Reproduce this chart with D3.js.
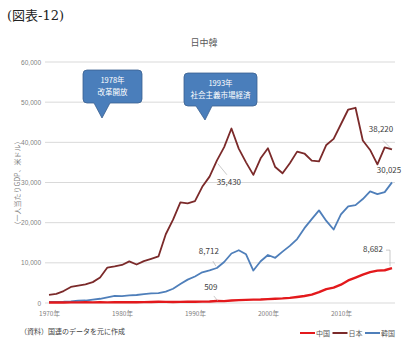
<!DOCTYPE html>
<html>
<head>
<meta charset="utf-8">
<script src="https://cdn.jsdelivr.net/npm/d3@7"></script>
<style>
  body { margin: 0; background: #fff; }
  svg text { font-family: "Liberation Sans Narrow", "Noto Sans CJK JP", sans-serif; }
</style>
</head>
<body>
<svg id="chart" width="419" height="348"></svg>
<script>
// 年 (1970-2017)
const years = d3.range(1970, 2018);

// 一人当たりGDP（米ドル）
const china = [113, 119, 132, 157, 160, 178, 165, 185, 156, 184,
  195, 197, 203, 225, 250, 294, 281, 252, 284, 311,
  318, 333, 366, 509, 472, 610, 709, 782, 829, 873,
  959, 1053, 1149, 1289, 1509, 1753, 2099, 2694, 3468, 3832,
  4550, 5618, 6317, 7051, 7679, 8067, 8148, 8682];
const japan = [2037, 2272, 2967, 3997, 4353, 4659, 5197, 6335, 8821, 9105,
  9463, 10361, 9578, 10425, 10984, 11585, 17112, 20745, 25052, 24813,
  25359, 28925, 31465, 35430, 38815, 43440, 38437, 35022, 31903, 36027,
  38532, 33846, 32289, 34808, 37689, 37218, 35434, 35275, 39339, 40855,
  44508, 48168, 48603, 40454, 38109, 34524, 38761, 38220];
const korea = [279, 301, 324, 406, 563, 617, 834, 1055, 1405, 1783,
  1715, 1883, 1992, 2199, 2413, 2482, 2835, 3555, 4749, 5817,
  6610, 7637, 8127, 8712, 10206, 12333, 13138, 12131, 8085, 10409,
  11948, 11253, 12789, 14219, 15922, 18640, 20888, 23060, 20431, 18292,
  22087, 24080, 24359, 25890, 27811, 27105, 27608, 30025];

const yTicks = [0, 10000, 20000, 30000, 40000, 50000, 60000];
const xTicks = [1970, 1980, 1990, 2000, 2010];

const svg = d3.select("#chart");

const x = d3.scaleLinear().domain([1970, 2017]).range([49, 392]);
const y = d3.scaleLinear().domain([0, 60000]).range([303, 62]);

// 見出し
svg.append("text").attr("x", 7).attr("y", 20)
  .attr("font-size", 13).attr("fill", "#222")
  .style("font-family", "'DejaVu Serif', 'Noto Sans CJK JP', serif")
  .text("(図表-12)");

svg.append("text").attr("x", 204).attr("y", 46)
  .attr("text-anchor", "middle").attr("font-size", 9).attr("fill", "#595959")
  .style("font-family", "'Noto Sans CJK JP', sans-serif")
  .text("日中韓");

// 目盛線
svg.append("g").selectAll("line").data(yTicks).join("line")
  .attr("x1", 45).attr("x2", 395)
  .attr("y1", d => y(d)).attr("y2", d => y(d))
  .attr("stroke", "#d9d9d9").attr("stroke-width", 1);

const yAxis = svg.append("g").attr("transform", "translate(45,0)")
  .call(d3.axisLeft(y).tickValues(yTicks).tickSize(0).tickPadding(4)
    .tickFormat(d3.format(",")));
yAxis.select(".domain").remove();
yAxis.selectAll("text").attr("font-size", 6.5).attr("fill", "#7f7f7f")
  .style("font-family", "'Liberation Sans Narrow', sans-serif");

const xAxis = svg.append("g").attr("transform", "translate(0,308)")
  .call(d3.axisBottom(x).tickValues(xTicks).tickSize(0).tickPadding(3)
    .tickFormat(d => d + "年"));
xAxis.select(".domain").remove();
xAxis.selectAll("text").attr("font-size", 6.5).attr("fill", "#7f7f7f")
  .style("font-family", "'Liberation Sans Narrow', 'Noto Sans CJK JP', sans-serif");

// 軸タイトル
svg.append("text")
  .attr("transform", "translate(20,183) rotate(-90)")
  .attr("text-anchor", "middle").attr("font-size", 7).attr("fill", "#7f7f7f")
  .style("font-family", "'Noto Sans CJK JP', sans-serif")
  .text("（一人当たりGDP、米ドル）");

// 系列
const series = [
  { name: "中国", values: china, color: "#e3191c" },
  { name: "日本", values: japan, color: "#7b2a2a" },
  { name: "韓国", values: korea, color: "#4f7fba" }
];

const line = d3.line().x((d, i) => x(years[i])).y(d => y(d));

svg.append("g").selectAll("path").data([series[2], series[0], series[1]]).join("path")
  .attr("d", d => line(d.values))
  .attr("fill", "none")
  .attr("stroke", d => d.color)
  .attr("stroke-width", d => d.name === "中国" ? 2.4 : 1.8)
  .attr("stroke-linejoin", "round");

// データラベル
const labels = [
  { data: japan, year: 1993, dx: 12, dy: 24, lx: 1, ly: 3, lx2: 10, ly2: 14 },
  { data: korea, year: 1993, dx: -8, dy: -14, lx: -4, ly: -7, lx2: -1, ly2: -2 },
  { data: china, year: 1993, dx: -6, dy: -11, lx: -3, ly: -5, lx2: 1, ly2: 0 },
  { data: japan, year: 2017, dx: -11, dy: -17, lx: -9, ly: -9, lx2: -1, ly2: -1 },
  { data: korea, year: 2017, dx: -3, dy: -9, lx: 0, ly: 0, lx2: 0, ly2: 0 },
  { data: china, year: 2017, dx: -19, dy: -16, lx: -6, ly: -18, lx2: -2, ly2: -18 }
];

const lg = svg.append("g");
labels.forEach(l => {
  const i = years.indexOf(l.year);
  const px = x(l.year), py = y(l.data[i]);
  if (l.lx || l.ly) {
    lg.append("line")
      .attr("x1", px + l.lx).attr("y1", py + l.ly)
      .attr("x2", px + l.lx2).attr("y2", py + l.ly2)
      .attr("stroke", "#a6a6a6").attr("stroke-width", 0.6);
  }
  lg.append("text")
    .attr("x", px + l.dx).attr("y", py + l.dy)
    .attr("text-anchor", "middle").attr("font-size", 8).attr("fill", "#404040")
    .text(d3.format(",")(l.data[i]));
});
// 8,682 の引出線（縦）
{
  const i = years.indexOf(2017);
  const px = x(2017), py = y(china[i]);
  lg.append("line").attr("x1", px - 2).attr("y1", py - 18).attr("x2", px - 2).attr("y2", py - 2)
    .attr("stroke", "#a6a6a6").attr("stroke-width", 0.6);
}

// 吹き出し
const callouts = [
  { lines: ["1978年", "改革開放"], x0: 83, x1: 142, y0: 70, y1: 103, tx: 102, ty: 118, b0: 94, b1: 110 },
  { lines: ["1993年", "社会主義市場経済"], x0: 184, x1: 257, y0: 73, y1: 106, tx: 205, ty: 120, b0: 196, b1: 212 }
];
callouts.forEach(c => {
  const g = svg.append("g");
  const r = 4;
  const p = d3.path();
  p.moveTo(c.x0 + r, c.y0);
  p.lineTo(c.x1 - r, c.y0);
  p.arcTo(c.x1, c.y0, c.x1, c.y0 + r, r);
  p.lineTo(c.x1, c.y1 - r);
  p.arcTo(c.x1, c.y1, c.x1 - r, c.y1, r);
  p.lineTo(c.b1, c.y1);
  p.lineTo(c.tx, c.ty);
  p.lineTo(c.b0, c.y1);
  p.lineTo(c.x0 + r, c.y1);
  p.arcTo(c.x0, c.y1, c.x0, c.y1 - r, r);
  p.lineTo(c.x0, c.y0 + r);
  p.arcTo(c.x0, c.y0, c.x0 + r, c.y0, r);
  p.closePath();
  g.append("path").attr("d", p.toString())
    .attr("fill", "#4a7ebb").attr("stroke", "#3a5f8f").attr("stroke-width", 0.8);
  g.selectAll("text").data(c.lines).join("text")
    .attr("x", (c.x0 + c.x1) / 2)
    .attr("y", (d, i) => c.y0 + 13 + i * 12)
    .attr("text-anchor", "middle").attr("font-size", 7.5).attr("fill", "#fff")
    .style("font-family", "'Noto Sans CJK JP', sans-serif")
    .text(d => d);
});

// 出所
svg.append("text").attr("x", 20).attr("y", 334)
  .attr("font-size", 7).attr("fill", "#404040")
  .style("font-family", "'Noto Sans CJK JP', sans-serif")
  .text("（資料）国連のデータを元に作成");

// 凡例
const legend = svg.append("g").selectAll("g").data(series).join("g")
  .attr("transform", (d, i) => `translate(${300 + i * 32.5},333)`);
legend.append("line").attr("x1", 0).attr("x2", 15).attr("y1", 0).attr("y2", 0)
  .attr("stroke", d => d.color).attr("stroke-width", 2);
legend.append("text").attr("x", 16).attr("y", 2.5)
  .attr("font-size", 7).attr("fill", "#595959")
  .style("font-family", "'Noto Sans CJK JP', sans-serif")
  .text(d => d.name);
</script>
</body>
</html>
